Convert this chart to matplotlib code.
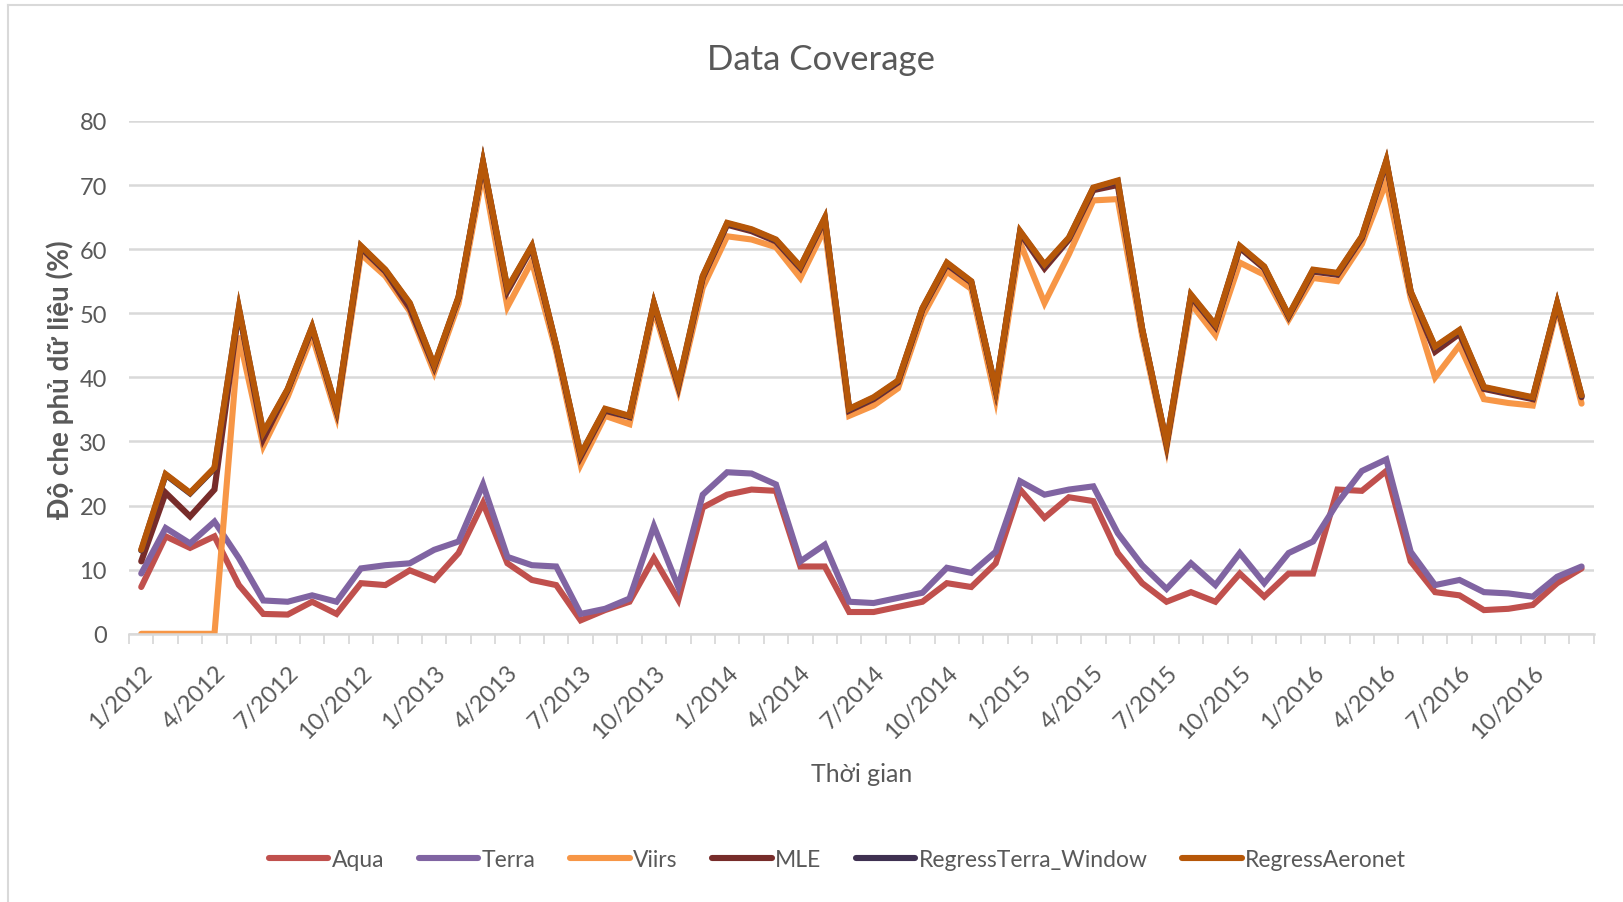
import matplotlib
matplotlib.use("Agg")
import matplotlib.pyplot as plt
import numpy as np

plt.rcParams['font.family'] = ['Lato', 'DejaVu Sans']

# thang 1/2012 .. 12/2016
months = [f"{m}/{y}" for y in range(2012, 2017) for m in range(1, 13)]

aqua = [7.3, 15.2, 13.4, 15.2, 7.6, 3.1, 3.0, 5.0, 3.1, 7.9, 7.6, 9.9,
        8.4, 12.6, 20.4, 11.0, 8.4, 7.6, 2.1, 3.7, 5.0, 11.8, 5.3, 19.7,
        21.7, 22.5, 22.3, 10.5, 10.5, 3.4, 3.4, 4.2, 5.0, 7.9, 7.3, 11.0,
        22.5, 18.1, 21.3, 20.7, 12.6, 7.9, 5.0, 6.5, 5.0, 9.4, 5.8, 9.4,
        9.4, 22.5, 22.3, 25.4, 11.3, 6.5, 6.0, 3.7, 3.9, 4.5, 7.9, 10.2]
terra = [9.4, 16.5, 14.1, 17.5, 11.8, 5.2, 5.0, 6.0, 5.0, 10.2, 10.7, 11.0,
         13.1, 14.4, 23.3, 12.0, 10.7, 10.5, 3.1, 3.9, 5.5, 16.8, 7.3, 21.7,
         25.2, 25.0, 23.3, 11.3, 13.9, 5.0, 4.8, 5.6, 6.4, 10.3, 9.5, 12.8,
         23.8, 21.7, 22.5, 23.0, 15.7, 10.7, 7.0, 11.0, 7.6, 12.6, 7.9, 12.6,
         14.4, 20.4, 25.4, 27.2, 12.8, 7.6, 8.4, 6.5, 6.3, 5.8, 8.9, 10.5]
viirs = [0, 0, 0, 0, 46.5, 29.3, 37.0, 46.5, 34.0, 59.2, 55.8, 50.3,
         40.8, 51.5, 72.0, 51.0, 58.1, 44.0, 26.4, 34.0, 32.7, 50.5, 38.0, 54.0,
         62.0, 61.5, 60.3, 55.5, 63.2, 34.0, 35.6, 38.3, 49.5, 56.5, 53.8, 36.6,
         61.0, 51.6, 59.2, 67.6, 67.8, 46.5, 29.0, 51.5, 46.6, 57.9, 56.0, 49.0,
         55.5, 55.0, 60.8, 70.5, 52.4, 40.0, 45.0, 36.6, 36.0, 35.6, 50.8, 35.9]
mle = [11.3, 22.0, 18.3, 22.5, 50.5, 30.4, 38.0, 47.6, 34.8, 60.2, 56.5, 50.8,
       41.6, 52.4, 73.4, 53.4, 60.2, 44.8, 27.6, 34.8, 33.8, 51.4, 38.6, 55.5,
       63.8, 62.8, 61.2, 57.0, 64.6, 34.8, 36.6, 39.2, 50.6, 57.6, 54.8, 38.0,
       62.5, 57.0, 61.5, 69.2, 70.0, 47.5, 29.5, 52.6, 47.9, 60.2, 57.0, 49.5,
       56.5, 56.0, 61.7, 73.5, 53.2, 44.0, 46.8, 38.2, 37.4, 36.6, 51.4, 36.9]
regress_terra = [13.0, 24.8, 21.9, 25.8, 50.7, 31.3, 38.1, 47.8, 35.0, 60.4, 56.7, 51.5,
                 41.8, 52.5, 73.5, 53.8, 60.4, 44.9, 27.9, 35.0, 33.9, 51.5, 38.9, 55.7,
                 64.0, 63.0, 61.4, 57.2, 64.8, 35.0, 36.8, 39.4, 50.7, 57.8, 54.9, 38.1,
                 62.7, 57.5, 61.7, 69.5, 70.6, 47.5, 29.7, 52.8, 48.1, 60.4, 57.2, 49.6,
                 56.7, 56.2, 61.9, 73.7, 53.3, 44.7, 47.3, 38.4, 37.6, 36.8, 51.5, 37.1]
regress_aeronet = [13.1, 24.9, 22.0, 25.9, 50.8, 31.4, 38.2, 47.9, 35.1, 60.5, 56.8, 51.6,
                   41.9, 52.6, 73.6, 53.9, 60.5, 45.0, 28.0, 35.1, 34.0, 51.6, 39.0, 55.8,
                   64.1, 63.1, 61.5, 57.3, 64.9, 35.1, 36.9, 39.5, 50.8, 57.9, 55.0, 38.2,
                   62.8, 57.6, 61.8, 69.6, 70.7, 47.6, 29.8, 52.9, 48.2, 60.5, 57.3, 49.7,
                   56.8, 56.3, 62.0, 73.8, 53.4, 44.8, 47.4, 38.5, 37.7, 36.9, 51.6, 37.2]

series = [("Aqua", aqua, "#C0504D"),
          ("Terra", terra, "#8064A2"),
          ("Viirs", viirs, "#F79646"),
          ("MLE", mle, "#772C2A"),
          ("RegressTerra_Window", regress_terra, "#3F3151"),
          ("RegressAeronet", regress_aeronet, "#B65708")]

fig = plt.figure(figsize=(16.23, 9.03), dpi=100)
ax = fig.add_axes([0.0795, 0.297, 0.9025, 0.568])

x = np.arange(len(months))
for name, vals, col in series:
    ax.plot(x, vals, color=col, lw=4.4, label=name, solid_joinstyle="miter", solid_capstyle="round")

ax.set_xlim(-0.5, len(months) - 0.5)
ax.set_ylim(0, 80)
ax.set_yticks(range(0, 81, 10))
ax.yaxis.grid(True, color="#d9d9d9", lw=1.8)
ax.set_axisbelow(True)
for s in ["top", "right", "left"]:
    ax.spines[s].set_visible(False)
ax.spines["bottom"].set_color("#d9d9d9")
ax.spines["bottom"].set_linewidth(1.8)

ax.set_xticks(x[::3])
ax.set_xticklabels(months[::3], rotation=45, ha="right", va="top", rotation_mode="anchor")
ax.set_xticks(np.arange(-0.5, len(months), 1), minor=True)
ax.tick_params(axis="x", which="major", length=0, pad=20, labelsize=17, labelcolor="#595959")
ax.tick_params(axis="x", which="minor", length=7, width=1.3, color="#d9d9d9", direction="out")
ax.tick_params(axis="y", length=0, pad=16, labelsize=17, labelcolor="#595959")

fig.text(0.506, 0.934, "Data Coverage", fontsize=25, color="#595959", ha="center", va="center")
ax.set_xlabel("Thời gian", fontsize=18, color="#595959", labelpad=14)
fig.text(0.037, 0.58, "Độ che phủ dữ liệu (%)", fontsize=20, color="#595959", fontweight="bold",
         rotation=90, ha="center", va="center")

fig.legend(loc="center", bbox_to_anchor=(0.516, 0.047), ncol=6, frameon=False,
           fontsize=16.5, handlelength=2.6, handletextpad=0.15, columnspacing=1.5,
           labelcolor="#595959")

# khung ngoai
fig.add_artist(plt.Line2D([0.005, 0.005], [0, 0.993], transform=fig.transFigure, color="#d9d9d9", lw=1.5))
fig.add_artist(plt.Line2D([0.005, 1], [0.993, 0.993], transform=fig.transFigure, color="#d9d9d9", lw=1.5))

fig.savefig("out.png", dpi=100)
